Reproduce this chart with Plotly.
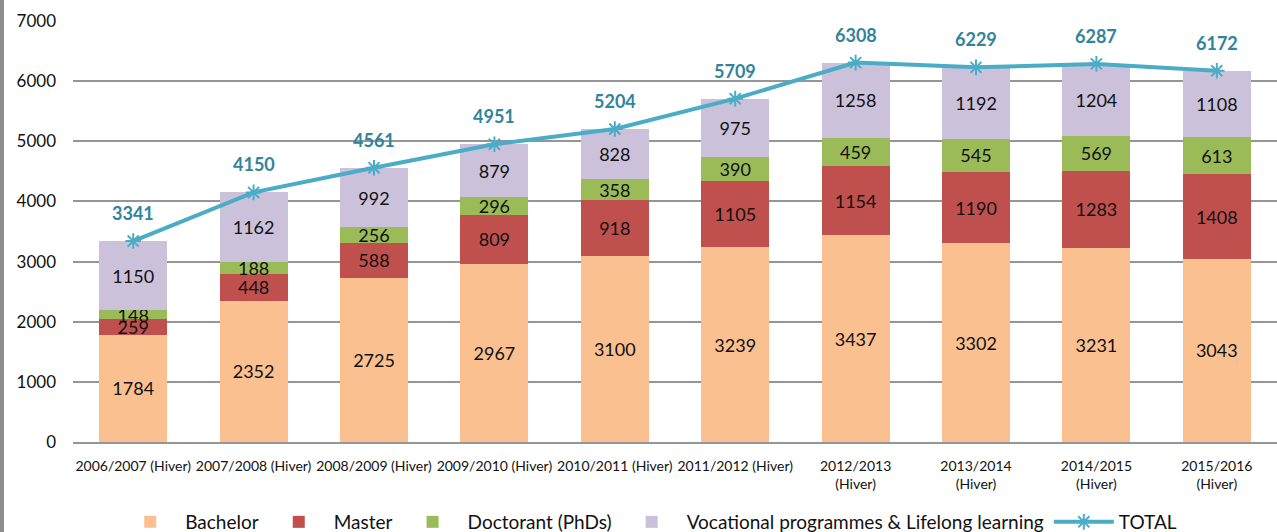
import plotly.graph_objects as go

categories = ["2006/2007 (Hiver)", "2007/2008 (Hiver)", "2008/2009 (Hiver)",
              "2009/2010 (Hiver)", "2010/2011 (Hiver)", "2011/2012 (Hiver)",
              "2012/2013<br>(Hiver)", "2013/2014<br>(Hiver)", "2014/2015<br>(Hiver)",
              "2015/2016<br>(Hiver)"]
bachelor = [1784, 2352, 2725, 2967, 3100, 3239, 3437, 3302, 3231, 3043]
master = [259, 448, 588, 809, 918, 1105, 1154, 1190, 1283, 1408]
doctorant = [148, 188, 256, 296, 358, 390, 459, 545, 569, 613]
vocational = [1150, 1162, 992, 879, 828, 975, 1258, 1192, 1204, 1108]
total = [3341, 4150, 4561, 4951, 5204, 5709, 6308, 6229, 6287, 6172]

FONT = "Lato"
series = [
    ("Bachelor", bachelor, "#FAC090"),
    ("Master", master, "#C0504D"),
    ("Doctorant (PhDs)", doctorant, "#9BBB59"),
    ("Vocational programmes & Lifelong learning", vocational, "#CCC1DA"),
]

fig = go.Figure()
for name, vals, color in series:
    fig.add_trace(go.Bar(
        x=categories, y=vals, name=name, marker=dict(color=color, line=dict(width=0)),
        text=[str(v) for v in vals], textposition="inside", insidetextanchor="middle",
        constraintext="none", textangle=0,
        textfont=dict(family=FONT, size=18, color="#111111"),
        hoverinfo="skip",
    ))

fig.add_trace(go.Scatter(
    x=categories, y=total, name="TOTAL", mode="lines+markers",
    line=dict(color="#4BACC6", width=4),
    marker=dict(symbol="asterisk-open", size=13, color="#4BACC6",
                line=dict(color="#4BACC6", width=2)),
    hoverinfo="skip",
))

for c, t in zip(categories, total):
    fig.add_annotation(x=c, y=t, text=str(t), showarrow=False, yshift=28,
                       font=dict(family=FONT, size=18, color="#31849B", weight="bold"))

fig.update_layout(
    width=1277, height=532,
    barmode="stack", bargap=0.435,
    plot_bgcolor="white", paper_bgcolor="white",
    margin=dict(l=73, r=0, t=21, b=90),
    font=dict(family=FONT, size=16, color="#111111"),
    legend=dict(orientation="h", xref="container", yref="container",
                x=0.508, xanchor="center", y=10/532, yanchor="middle",
                font=dict(family=FONT, size=19, color="#111111"), traceorder="normal",
                itemwidth=60),
    showlegend=True,
)
fig.update_xaxes(
    automargin=False, range=[-0.5, len(categories) - 0.5],
    showgrid=False, showline=True, linecolor="#969696", linewidth=1.5,
    tickfont=dict(family=FONT, size=14), ticks="", tickangle=0,
    ticklabelstandoff=10,
)
fig.update_yaxes(
    automargin=False,
    range=[0, 7000], dtick=1000, showgrid=True, gridcolor="#969696", gridwidth=1.5,
    zeroline=False, showline=False, tickfont=dict(family=FONT, size=17),
    ticklen=0, ticklabelstandoff=16,
)
fig.add_shape(type="line", xref="paper", yref="paper",
              x0=-71/1204, x1=-71/1204, y0=-90/421, y1=1 + 21/421,
              line=dict(color="#8C8C8C", width=4))

fig.write_html("out.html", post_script="document.body.style.margin='0';",
               config={"displayModeBar": False})
